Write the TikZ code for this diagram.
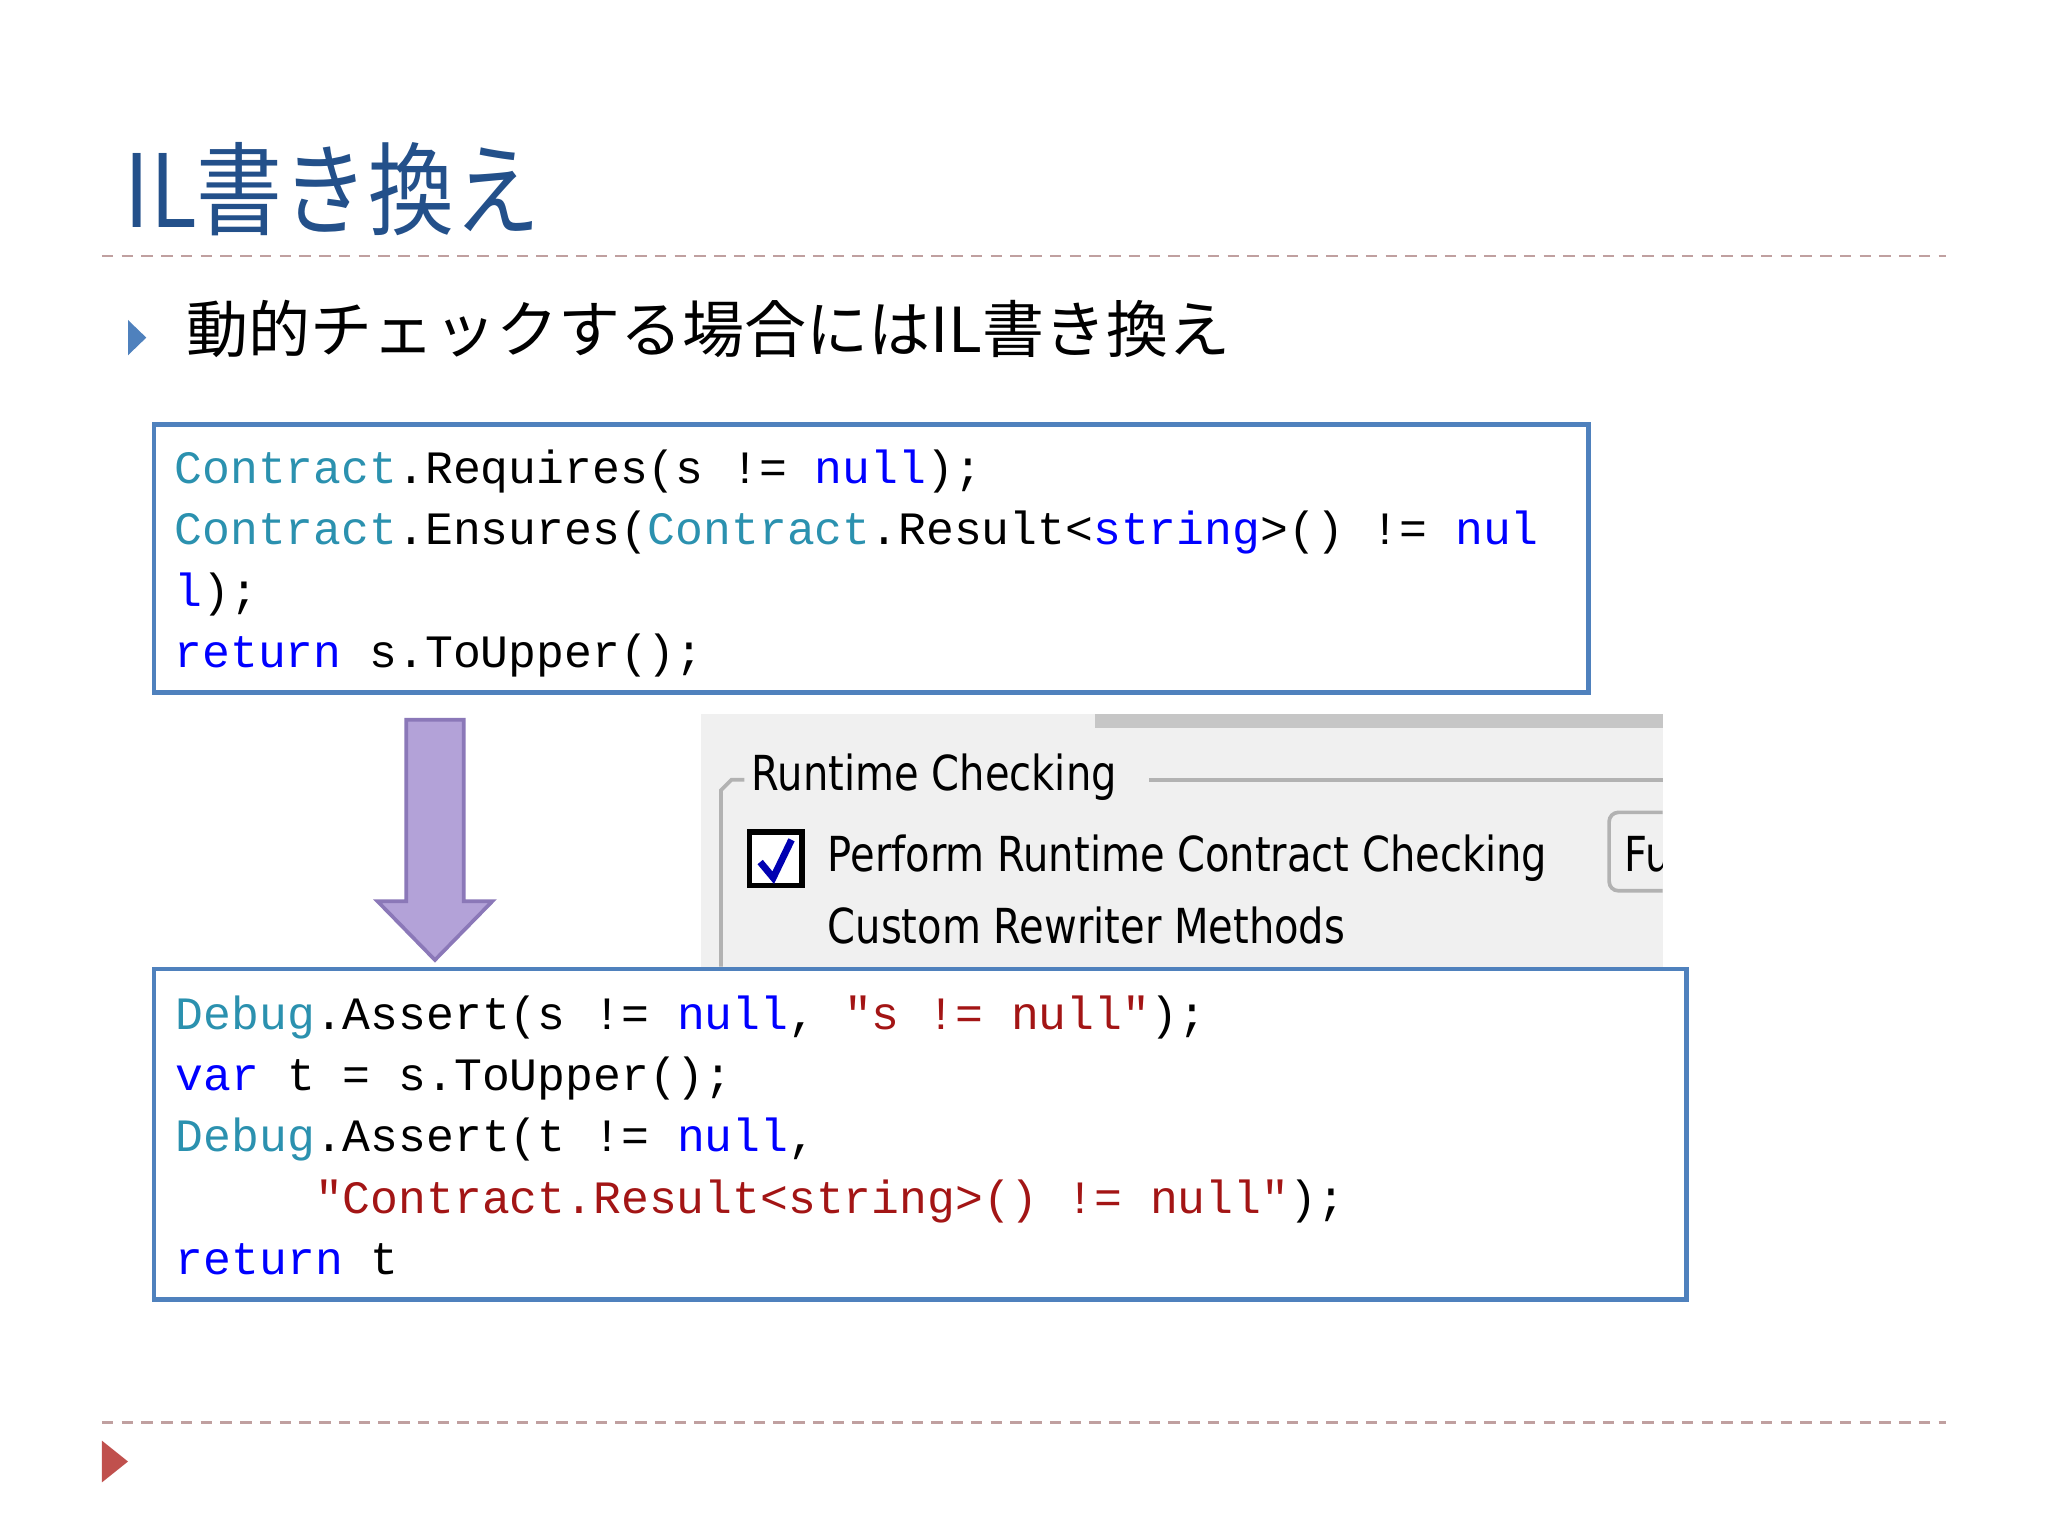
\documentclass[tikz,border=0pt]{standalone}
\usepackage{fontspec}
\usepackage{graphicx}
\setmonofont{Liberation Mono}
\newfontfamily\jp{Noto Sans CJK JP}
\newfontfamily\ui{DejaVu Sans}
\definecolor{ttl}{HTML}{23508A}
\definecolor{bx}{HTML}{4F81BD}
\definecolor{tl}{HTML}{2B91AF}
\definecolor{kw}{HTML}{0000FF}
\definecolor{st}{HTML}{A31515}
\definecolor{dl}{HTML}{C0A0A0}
\definecolor{ar}{HTML}{B3A2D8}
\definecolor{arb}{HTML}{8B78B8}
\definecolor{rtri}{HTML}{C0504D}
\tikzset{code/.style={anchor=base west,inner sep=0pt,font=\ttfamily\fontsize{10.1}{12}\selectfont},
 codebox/.style={draw=bx,line width=1pt},
 dline/.style={dl,dash pattern=on 2.5pt off 1.8pt,line width=0.6pt},
 uitext/.style={anchor=base west,inner sep=0pt,font=\ui\fontsize{10.5}{12}\selectfont}}
\begin{document}
\begin{tikzpicture}[x=0.01cm,y=-0.01cm]
\useasboundingbox (0,0) rectangle (1568,1176);
\node[anchor=base west,inner sep=0pt,text=ttl,font=\jp\fontsize{22}{26}\selectfont] (title) at (95,174) {\scalebox{0.85}[1]{IL書き換え}};
\draw[dline] (78,196) coordinate (d1a) -- (1490,196) coordinate (d1b);
\draw[dline] (78,1089) coordinate (d2a) -- (1490,1089) coordinate (d2b);
\fill[bx] (98,245) -- (112,258.5) -- (98,272) -- cycle;
\fill[rtri] (78,1103) -- (98,1119) -- (78,1135) -- cycle;
\node[anchor=base west,inner sep=0pt,font=\jp\fontsize{13.5}{16}\selectfont] (bul) at (142,270) {動的チェックする場合にはIL書き換え};
% box1
\draw[codebox] (118,325) rectangle (1216,530);
\node[code] (c1) at (133,370) {\textcolor{tl}{Contract}.Requires(s != \textcolor{kw}{null});};
\node[code] (c2) at (133,417) {\textcolor{tl}{Contract}.Ensures(\textcolor{tl}{Contract}.Result<\textcolor{kw}{string}>() != \textcolor{kw}{nul}};
\node[code] (c3) at (133,464) {\textcolor{kw}{l});};
\node[code] (c4) at (133,511) {\textcolor{kw}{return} s.ToUpper();};
% arrow
\draw[arb,fill=ar,line width=0.8pt] (311,551) -- (355,551) -- (355,690) -- (377,690) -- (333,735) -- (289,690) -- (311,690) -- cycle;
% screenshot
\fill[gray!12] (537,547) rectangle (1273,740);
\fill[gray!45] (838,547) rectangle (1273,557);
\draw[gray!60,line width=0.8pt] (552,740) -- (552,605) -- (560,597) -- (570,597);
\draw[gray!60,line width=0.8pt] (880,597) -- (1273,597);
\node[uitext] (rc) at (575,605) {\scalebox{0.83}[1]{Runtime Checking}};
\draw[black,line width=1.2pt,fill=white] (574,637) rectangle (614,678);
\draw[kw!70!black,line width=1.5pt] (582,660) -- (592,672) -- (606,643);
\node[uitext] (pr) at (633,667) {\scalebox{0.83}[1]{Perform Runtime Contract Checking}};
\node[uitext] (cr) at (633,722) {\scalebox{0.83}[1]{Custom Rewriter Methods}};
\fill[gray!12] (1232,620) rectangle (1273,684);
\draw[gray!60,line width=0.8pt,rounded corners=2pt] (1273,622) -- (1232,622) -- (1232,682) -- (1273,682);
\begin{scope}
\clip (1234,620) rectangle (1273,684);
\node[uitext] (fu) at (1243,667) {\scalebox{0.83}[1]{Fu}};
\end{scope}
% box2
\draw[codebox,fill=white] (118,742) rectangle (1291,995);
\node[code] (e1) at (134,788) {\textcolor{tl}{Debug}.Assert(s != \textcolor{kw}{null}, \textcolor{st}{"s != null"});};
\node[code] (e2) at (134,835) {\textcolor{kw}{var} t = s.ToUpper();};
\node[code] (e3) at (134,882) {\textcolor{tl}{Debug}.Assert(t != \textcolor{kw}{null},};
\node[code] (e4) at (134,929) {\phantom{ooooo}\textcolor{st}{"Contract.Result<string>() != null"});};
\node[code] (e5) at (134,976) {\textcolor{kw}{return} t};
\end{tikzpicture}
\end{document}
